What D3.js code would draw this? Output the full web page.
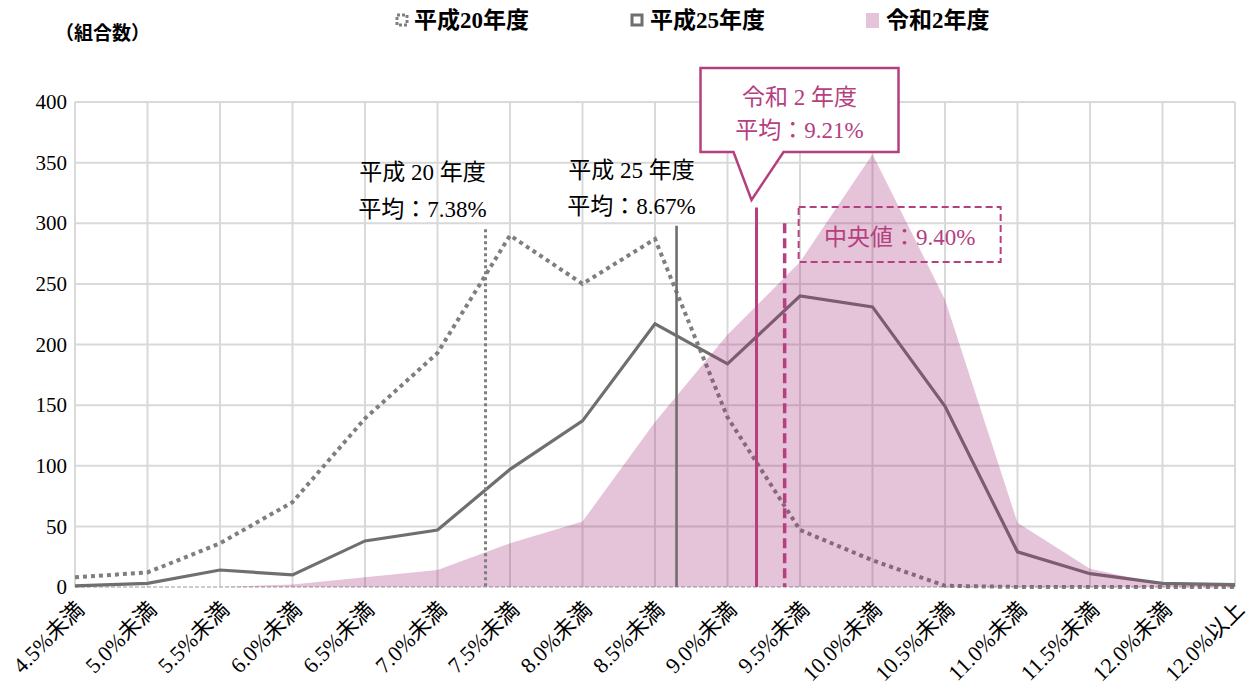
<!DOCTYPE html>
<html lang="ja">
<head>
<meta charset="utf-8">
<script src="https://cdn.jsdelivr.net/npm/d3@7"></script>
<style>
	body { margin: 0; background: #fff; }
	svg { display: block; font-family: "Liberation Serif", "DejaVu Serif", "Noto Sans CJK JP", serif; }
</style>
</head>
<body>
<div id="chart"></div>
<script>
const categories = [
	'4.5%未満', '5.0%未満', '5.5%未満', '6.0%未満', '6.5%未満', '7.0%未満',
	'7.5%未満', '8.0%未満', '8.5%未満', '9.0%未満', '9.5%未満', '10.0%未満',
	'10.5%未満', '11.0%未満', '11.5%未満', '12.0%未満', '12.0%以上',
];
const h20Values = [8, 12, 36, 70, 139, 193, 290, 250, 287, 140, 47, 22, 1, 0, 0, 0, 0];
const h25Values = [1, 3, 14, 10, 38, 47, 97, 137, 217, 184, 240, 231, 149, 29, 11, 3, 2];
const r2Values = [0, 0, 0, 2, 8, 14, 36, 54, 136, 208, 268, 357, 237, 53, 15, 2, 1];
const yTicks = [0, 50, 100, 150, 200, 250, 300, 350, 400];
const seriesNames = ['平成20年度', '平成25年度', '令和2年度'];
const meanRates = [7.38, 8.67, 9.21];
const medianRate = 9.40;

const gray = '#7f7f7f';
const darkGray = '#6f6f6f';
const magenta = '#b5407f';

class RateChart {
	constructor({ element }) {
		this.element = element;
		this.draw();
	}

	draw() {
		this.width = 1250;
		this.height = 688;
		this.margin = { top: 102, right: 15, bottom: 101, left: 75 };
		this.innerW = this.width - this.margin.left - this.margin.right;
		this.innerH = this.height - this.margin.top - this.margin.bottom;

		this.element.innerHTML = '';
		this.svg = d3.select(this.element).append('svg')
			.attr('width', this.width)
			.attr('height', this.height);

		this.plot = this.svg.append('g')
			.attr('transform', `translate(${this.margin.left},${this.margin.top})`);

		this.createScales();
		this.addGrid();
		this.addAxes();
		this.addSeries();
		this.addMeans();
		this.addLegend();
	}

	createScales() {
		this.xScale = d3.scalePoint()
			.domain(categories)
			.range([0, this.innerW]);

		this.yScale = d3.scaleLinear()
			.domain([0, 400])
			.range([this.innerH, 0]);

		// rate (%) -> x, as the original places the marker lines
		const step = this.xScale.step();
		this.rateScale = d3.scaleLinear()
			.domain([4.5, 12.5])
			.range([-0.22 * step, 16.12 * step]);
	}

	addGrid() {
		const grid = this.plot.append('g').attr('class', 'grid');

		grid.selectAll('.h')
			.data(yTicks.slice(1))
			.enter()
			.append('line')
			.attr('x1', 0)
			.attr('x2', this.innerW)
			.attr('y1', (d) => this.yScale(d))
			.attr('y2', (d) => this.yScale(d))
			.attr('stroke', '#d9d9d9')
			.attr('stroke-width', 2);

		grid.selectAll('.v')
			.data(categories)
			.enter()
			.append('line')
			.attr('x1', (d) => this.xScale(d))
			.attr('x2', (d) => this.xScale(d))
			.attr('y1', 0)
			.attr('y2', this.innerH)
			.attr('stroke', '#d9d9d9')
			.attr('stroke-width', 2);

		grid.append('line')
			.attr('x1', 0)
			.attr('x2', this.innerW)
			.attr('y1', this.yScale(0))
			.attr('y2', this.yScale(0))
			.attr('stroke', '#999')
			.attr('stroke-width', 1.2)
			.attr('stroke-dasharray', '4 2');
	}

	addAxes() {
		const yAxis = d3.axisLeft(this.yScale)
			.tickValues(yTicks)
			.tickSize(0)
			.tickPadding(8)
			.tickFormat(d3.format('d'));

		const yG = this.plot.append('g').attr('class', 'y axis').call(yAxis);
		yG.attr('font-family', null).attr('font-size', null);
		yG.select('.domain').remove();
		yG.selectAll('text')
			.attr('font-size', 21)
			.attr('fill', '#000');

		const xAxis = d3.axisBottom(this.xScale).tickSize(0);
		const xG = this.plot.append('g')
			.attr('class', 'x axis')
			.attr('transform', `translate(0,${this.innerH})`)
			.call(xAxis);
		xG.attr('font-family', null).attr('font-size', null);
		xG.select('.domain').remove();
		xG.selectAll('text')
			.attr('font-size', 22)
			.attr('fill', '#000')
			.attr('text-anchor', 'end')
			.attr('dy', null)
			.attr('y', 0)
			.attr('transform', 'translate(10,24) rotate(-45)');
	}

	addSeries() {
		const x = (d, i) => this.xScale(categories[i]);

		const line = d3.line()
			.x(x)
			.y((d) => this.yScale(d));

		const area = d3.area()
			.x(x)
			.y0(this.yScale(0))
			.y1((d) => this.yScale(d));

		this.plot.append('path')
			.datum(h20Values)
			.attr('d', line)
			.attr('fill', 'none')
			.attr('stroke', gray)
			.attr('stroke-width', 4)
			.attr('stroke-dasharray', '4 4');

		this.plot.append('path')
			.datum(h25Values)
			.attr('d', line)
			.attr('fill', 'none')
			.attr('stroke', darkGray)
			.attr('stroke-width', 3.2)
			.attr('stroke-linejoin', 'miter');

		this.plot.append('path')
			.datum(r2Values)
			.attr('d', area)
			.attr('fill', 'rgb(160,40,120)')
			.attr('fill-opacity', 0.28);
	}

	addMeans() {
		const y0 = this.yScale(0);
		const ax = this.margin.left;

		// 平成20年度
		const x20 = this.rateScale(meanRates[0]);
		this.plot.append('line')
			.attr('x1', x20).attr('x2', x20)
			.attr('y1', this.yScale(295)).attr('y2', y0)
			.attr('stroke', gray)
			.attr('stroke-width', 3)
			.attr('stroke-dasharray', '3 3');

		// 平成25年度
		const x25 = this.rateScale(meanRates[1]);
		this.plot.append('line')
			.attr('x1', x25).attr('x2', x25)
			.attr('y1', this.yScale(298)).attr('y2', y0)
			.attr('stroke', darkGray)
			.attr('stroke-width', 2.6);

		// 令和2年度 平均
		const xR2 = this.rateScale(meanRates[2]);
		this.plot.append('line')
			.attr('x1', xR2).attr('x2', xR2)
			.attr('y1', this.yScale(313)).attr('y2', y0)
			.attr('stroke', magenta)
			.attr('stroke-width', 3);

		// 中央値
		const xMed = this.rateScale(medianRate);
		this.plot.append('line')
			.attr('x1', xMed).attr('x2', xMed)
			.attr('y1', this.yScale(300)).attr('y2', y0)
			.attr('stroke', magenta)
			.attr('stroke-width', 3.5)
			.attr('stroke-dasharray', '10 5');

		const ann = this.svg.append('g').attr('font-size', 23);

		const twoLines = (cx, lines, y1, y2, color) => {
			[y1, y2].forEach((yy, i) => {
				ann.append('text')
					.attr('x', cx)
					.attr('y', yy)
					.attr('text-anchor', 'middle')
					.attr('dominant-baseline', 'central')
					.attr('fill', color)
					.text(lines[i]);
			});
		};

		twoLines(ax + x20 - 63, [`平成 20 年度`, `平均：${meanRates[0]}%`], 172, 209, '#000');
		twoLines(ax + x25 - 45, [`平成 25 年度`, `平均：${meanRates[1]}%`], 170, 206, '#000');

		// callout for 令和2年度
		const lx = ax + xR2;
		const top = 68;
		const bottom = 152;
		ann.append('path')
			.attr('d', `M${lx - 56},${top} H${lx + 142} V${bottom} H${lx + 27} L${lx - 5},${bottom + 48} L${lx - 23},${bottom} H${lx - 56} Z`)
			.attr('fill', '#fff')
			.attr('stroke', magenta)
			.attr('stroke-width', 2.5);
		twoLines(lx + 43, ['令和 2 年度', `平均：${meanRates[2]}%`], 97, 130, magenta);

		// 中央値 box
		const mx = ax + xMed;
		ann.append('rect')
			.attr('x', mx + 14)
			.attr('y', 207)
			.attr('width', 202)
			.attr('height', 55)
			.attr('fill', 'none')
			.attr('stroke', magenta)
			.attr('stroke-width', 2)
			.attr('stroke-dasharray', '7 4');
		ann.append('text')
			.attr('x', mx + 115)
			.attr('y', 237)
			.attr('text-anchor', 'middle')
			.attr('dominant-baseline', 'central')
			.attr('fill', magenta)
			.text(`中央値：${medianRate.toFixed(2)}%`);
	}

	addLegend() {
		const lg = this.svg.append('g').attr('font-size', 23).attr('font-weight', 'bold');

		lg.append('text')
			.attr('x', 55)
			.attr('y', 33)
			.attr('dominant-baseline', 'central')
			.attr('font-size', 19)
			.text('（組合数）');

		// 平成20年度
		lg.append('rect')
			.attr('x', 397).attr('y', 15)
			.attr('width', 10).attr('height', 10)
			.attr('fill', 'none')
			.attr('stroke', gray)
			.attr('stroke-width', 3)
			.attr('stroke-dasharray', '3 2');
		// 平成25年度
		lg.append('rect')
			.attr('x', 632).attr('y', 15)
			.attr('width', 10).attr('height', 10)
			.attr('fill', 'none')
			.attr('stroke', darkGray)
			.attr('stroke-width', 3);
		// 令和2年度
		lg.append('rect')
			.attr('x', 866).attr('y', 13)
			.attr('width', 13).attr('height', 15)
			.attr('fill', 'rgb(160,40,120)')
			.attr('fill-opacity', 0.28);

		const textX = [414, 650, 886];
		lg.selectAll('.lt')
			.data(seriesNames)
			.enter()
			.append('text')
			.attr('x', (d, i) => textX[i])
			.attr('y', 20)
			.attr('dominant-baseline', 'central')
			.text((d) => d);
	}
}

new RateChart({ element: document.getElementById('chart') });
</script>
</body>
</html>
